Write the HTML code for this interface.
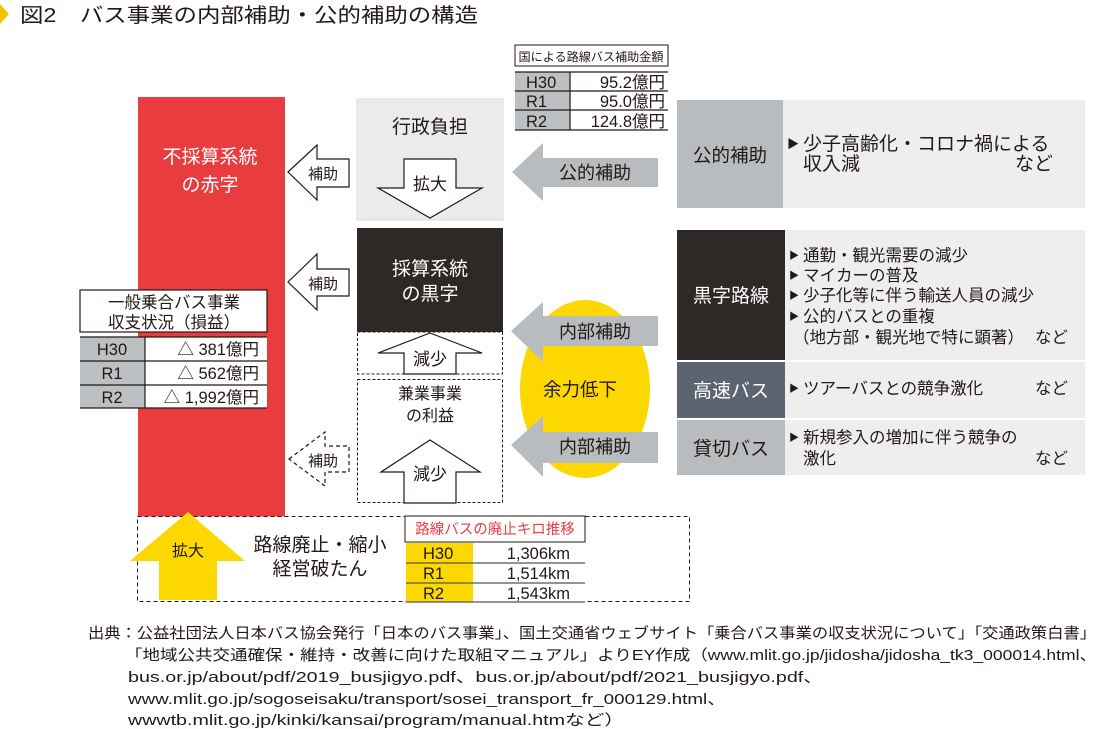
<!DOCTYPE html>
<html><head><meta charset="utf-8"><style>
html,body{margin:0;padding:0;background:#fff;}
svg{display:block;font-family:"Liberation Sans","Noto Sans CJK JP",sans-serif;}
</style></head><body>
<svg width="1100" height="729" viewBox="0 0 1100 729" xmlns="http://www.w3.org/2000/svg">
<!-- title -->
<polygon points="0,4 9,14 0,24" fill="#f5c400"/>
<text x="20" y="22" font-size="20" fill="#231815" textLength="458" lengthAdjust="spacingAndGlyphs">図2　バス事業の内部補助・公的補助の構造</text>

<!-- red bar -->
<rect x="138" y="97" width="147" height="420" fill="#e83c3f"/>
<text x="210" y="163" font-size="19" fill="#fff" text-anchor="middle">不採算系統</text>
<text x="210" y="191" font-size="19" fill="#fff" text-anchor="middle">の赤字</text>

<!-- left table -->
<rect x="80" y="290" width="187" height="42" fill="#fff" stroke="#231815" stroke-width="1.2"/>
<text x="174" y="308" font-size="16.5" fill="#231815" text-anchor="middle">一般乗合バス事業</text>
<text x="174" y="328" font-size="16.5" fill="#231815" text-anchor="middle">収支状況（損益）</text>
<rect x="80" y="337" width="65" height="71" fill="#bcc0c3"/>
<rect x="145" y="337" width="122" height="71" fill="#fff"/>
<g stroke="#231815" stroke-width="1.2"><line x1="80" y1="337" x2="267" y2="337"/><line x1="80" y1="361" x2="267" y2="361"/><line x1="80" y1="385" x2="267" y2="385"/><line x1="80" y1="408" x2="267" y2="408"/><line x1="145" y1="337" x2="145" y2="408"/></g>
<g font-size="16.5" fill="#231815"><text x="112" y="355" text-anchor="middle">H30</text><text x="112" y="379" text-anchor="middle">R1</text><text x="112" y="403" text-anchor="middle">R2</text>
<text x="259" y="355" text-anchor="end">△ 381億円</text><text x="259" y="379" text-anchor="end">△ 562億円</text><text x="259" y="403" text-anchor="end">△ 1,992億円</text></g>

<!-- left 補助 arrows -->
<polygon points="288,172 317,145 317,159 349,159 349,187 317,187 317,200" fill="#fff" stroke="#231815" stroke-width="1.2"/>
<text x="323" y="179" font-size="15" fill="#231815" text-anchor="middle">補助</text>
<polygon points="288,282 317,254 317,269 349,269 349,296 317,296 317,310" fill="#fff" stroke="#231815" stroke-width="1.2"/>
<text x="323" y="289" font-size="15" fill="#231815" text-anchor="middle">補助</text>
<polygon points="289,459 325,432 325,446 349,446 349,472 325,472 325,486" fill="#fff" stroke="#231815" stroke-width="1.2" stroke-dasharray="4,3"/>
<text x="323" y="466" font-size="15" fill="#231815" text-anchor="middle">補助</text>

<!-- 行政負担 -->
<rect x="357" y="99" width="146" height="121" fill="#ebebeb" stroke="#ddd" stroke-width="1"/>
<text x="430" y="133" font-size="19" fill="#231815" text-anchor="middle">行政負担</text>
<polygon points="404,159 456,159 456,188 482,188 430,218 378,188 404,188" fill="#fff" stroke="#231815" stroke-width="1.2"/>
<text x="430" y="190" font-size="17" fill="#231815" text-anchor="middle">拡大</text>

<!-- 採算系統の黒字 -->
<rect x="357" y="228" width="146" height="104" fill="#2e2826"/>
<text x="430" y="275" font-size="19" fill="#fff" text-anchor="middle">採算系統</text>
<text x="430" y="300" font-size="19" fill="#fff" text-anchor="middle">の黒字</text>
<rect x="357.5" y="332" width="145" height="42" fill="#fff" stroke="#231815" stroke-width="1" stroke-dasharray="3,2"/>
<polygon points="430,333 482,353 456,353 456,374 404,374 404,353 378,353" fill="#fff" stroke="#231815" stroke-width="1.2"/>
<text x="430" y="365" font-size="17" fill="#231815" text-anchor="middle">減少</text>

<!-- 兼業事業 -->
<rect x="357.5" y="379.5" width="145" height="123" fill="#fff" stroke="#231815" stroke-width="1" stroke-dasharray="3,2"/>
<text x="430" y="399" font-size="16" fill="#231815" text-anchor="middle">兼業事業</text>
<text x="430" y="421" font-size="16" fill="#231815" text-anchor="middle">の利益</text>
<polygon points="430,440 480,472 456,472 456,503 404,503 404,472 381,472" fill="#fff" stroke="#231815" stroke-width="1.2"/>
<text x="430" y="480" font-size="17" fill="#231815" text-anchor="middle">減少</text>

<!-- yellow ellipse + arrows -->
<ellipse cx="585" cy="389" rx="65" ry="89" fill="#fcd800"/>
<text x="580" y="396" font-size="18.5" fill="#231815" text-anchor="middle">余力低下</text>
<polygon points="512,172 543,143 543,158 658,158 658,187 543,187 543,201" fill="#b8bcbf"/>
<text x="595" y="179" font-size="18" fill="#231815" text-anchor="middle">公的補助</text>
<polygon points="511,331 543,302 543,316 658,316 658,346 543,346 543,362" fill="#b8bcbf"/>
<text x="595" y="338" font-size="18" fill="#231815" text-anchor="middle">内部補助</text>
<polygon points="511,445 543,416 543,432 658,432 658,463 543,463 543,477" fill="#b8bcbf"/>
<text x="595" y="453" font-size="18" fill="#231815" text-anchor="middle">内部補助</text>

<!-- top table -->
<rect x="515" y="45" width="153" height="21" fill="#fff" stroke="#231815" stroke-width="1"/>
<text x="591" y="61" font-size="12" fill="#231815" text-anchor="middle" textLength="145" lengthAdjust="spacingAndGlyphs">国による路線バス補助金額</text>
<rect x="515" y="72" width="55" height="58" fill="#bcc0c3"/>
<rect x="570" y="72" width="98" height="58" fill="#fff"/>
<g stroke="#231815" stroke-width="1.2"><line x1="515" y1="72" x2="668" y2="72"/><line x1="515" y1="91" x2="668" y2="91"/><line x1="515" y1="110" x2="668" y2="110"/><line x1="515" y1="130" x2="668" y2="130"/><line x1="570" y1="72" x2="570" y2="130"/></g>
<g font-size="16.5" fill="#231815"><text x="526" y="88">H30</text><text x="526" y="107">R1</text><text x="526" y="127">R2</text>
<text x="665" y="88" text-anchor="end">95.2億円</text><text x="665" y="107" text-anchor="end">95.0億円</text><text x="665" y="127" text-anchor="end">124.8億円</text></g>

<!-- right panel -->
<rect x="677" y="100" width="408" height="108" fill="#eeeeee"/>
<rect x="677" y="100" width="106" height="108" fill="#b8bcbf"/>
<text x="730" y="162" font-size="18.5" fill="#231815" text-anchor="middle">公的補助</text>
<g font-size="19" fill="#231815"><text x="787" y="148" font-size="12">▶</text><text x="803" y="150">少子高齢化・コロナ禍による</text><text x="803" y="170">収入減</text><text x="1053" y="170" text-anchor="end">など</text></g>

<rect x="677" y="230" width="408" height="245" fill="#eeeeee"/>
<rect x="677" y="230" width="108" height="130" fill="#2e2826"/>
<rect x="677" y="362" width="108" height="56" fill="#5b6470"/>
<rect x="677" y="420" width="108" height="55" fill="#b8bcbf"/>
<line x1="677" y1="361" x2="1085" y2="361" stroke="#fff" stroke-width="2"/>
<line x1="677" y1="419" x2="1085" y2="419" stroke="#fff" stroke-width="2"/>
<text x="731" y="302" font-size="19" fill="#fff" text-anchor="middle">黒字路線</text>
<text x="731" y="397" font-size="19" fill="#fff" text-anchor="middle">高速バス</text>
<text x="731" y="455" font-size="19" fill="#231815" text-anchor="middle">貸切バス</text>
<g font-size="16.5" fill="#231815">
<text x="789" y="259" font-size="10">▶</text><text x="803" y="261">通勤・観光需要の減少</text>
<text x="789" y="279" font-size="10">▶</text><text x="803" y="281">マイカーの普及</text>
<text x="789" y="299" font-size="10">▶</text><text x="803" y="301">少子化等に伴う輸送人員の減少</text>
<text x="789" y="320" font-size="10">▶</text><text x="803" y="322">公的バスとの重複</text>
<text x="793" y="343">（地方部・観光地で特に顕著）</text><text x="1068" y="343" text-anchor="end">など</text>
<text x="789" y="392" font-size="10">▶</text><text x="803" y="394">ツアーバスとの競争激化</text><text x="1068" y="394" text-anchor="end">など</text>
<text x="789" y="441" font-size="10">▶</text><text x="803" y="443">新規参入の増加に伴う競争の</text>
<text x="803" y="464">激化</text><text x="1068" y="464" text-anchor="end">など</text>
</g>

<!-- bottom dashed box -->
<rect x="137.5" y="516.5" width="552" height="85" fill="#fff" stroke="#231815" stroke-width="1" stroke-dasharray="4,3"/>
<polygon points="188,512 245,561 217,561 217,600 159,600 159,561 130,561" fill="#fcd800"/>
<text x="188" y="556" font-size="16" fill="#231815" text-anchor="middle">拡大</text>
<text x="320" y="551" font-size="19" fill="#231815" text-anchor="middle">路線廃止・縮小</text>
<text x="320" y="575" font-size="19" fill="#231815" text-anchor="middle">経営破たん</text>
<rect x="405" y="516" width="180" height="26" fill="#fff" stroke="#231815" stroke-width="1"/>
<text x="495" y="534" font-size="14.5" fill="#e83c3f" text-anchor="middle">路線バスの廃止キロ推移</text>
<rect x="406" y="543" width="67" height="59" fill="#fcd800"/>
<rect x="473" y="543" width="112" height="59" fill="#fff"/>
<g stroke="#555" stroke-width="1.2"><line x1="406" y1="563" x2="585" y2="563"/><line x1="406" y1="583" x2="585" y2="583"/><line x1="406" y1="602" x2="585" y2="602"/></g>
<g font-size="16.5" fill="#231815"><text x="423" y="559">H30</text><text x="423" y="579">R1</text><text x="423" y="599">R2</text>
<text x="570" y="559" text-anchor="end">1,306km</text><text x="570" y="579" text-anchor="end">1,514km</text><text x="570" y="599" text-anchor="end">1,543km</text></g>

<!-- footer -->
<g font-size="15" fill="#231815" font-family="'Liberation Sans Narrow','Liberation Sans','Noto Sans CJK JP',sans-serif">
<text x="88" y="638" textLength="1008" lengthAdjust="spacingAndGlyphs">出典：公益社団法人日本バス協会発行「日本のバス事業」、国土交通省ウェブサイト「乗合バス事業の収支状況について」「交通政策白書」</text>
<text x="125" y="660" textLength="972" lengthAdjust="spacingAndGlyphs">「地域公共交通確保・維持・改善に向けた取組マニュアル」よりEY作成（www.mlit.go.jp/jidosha/jidosha_tk3_000014.html、</text>
<text x="128" y="682" textLength="695" lengthAdjust="spacingAndGlyphs">bus.or.jp/about/pdf/2019_busjigyo.pdf、bus.or.jp/about/pdf/2021_busjigyo.pdf、</text>
<text x="128" y="704" textLength="598" lengthAdjust="spacingAndGlyphs">www.mlit.go.jp/sogoseisaku/transport/sosei_transport_fr_000129.html、</text>
<text x="128" y="725" textLength="496" lengthAdjust="spacingAndGlyphs">wwwtb.mlit.go.jp/kinki/kansai/program/manual.htmなど）</text>
</g>
</svg>
</body></html>
